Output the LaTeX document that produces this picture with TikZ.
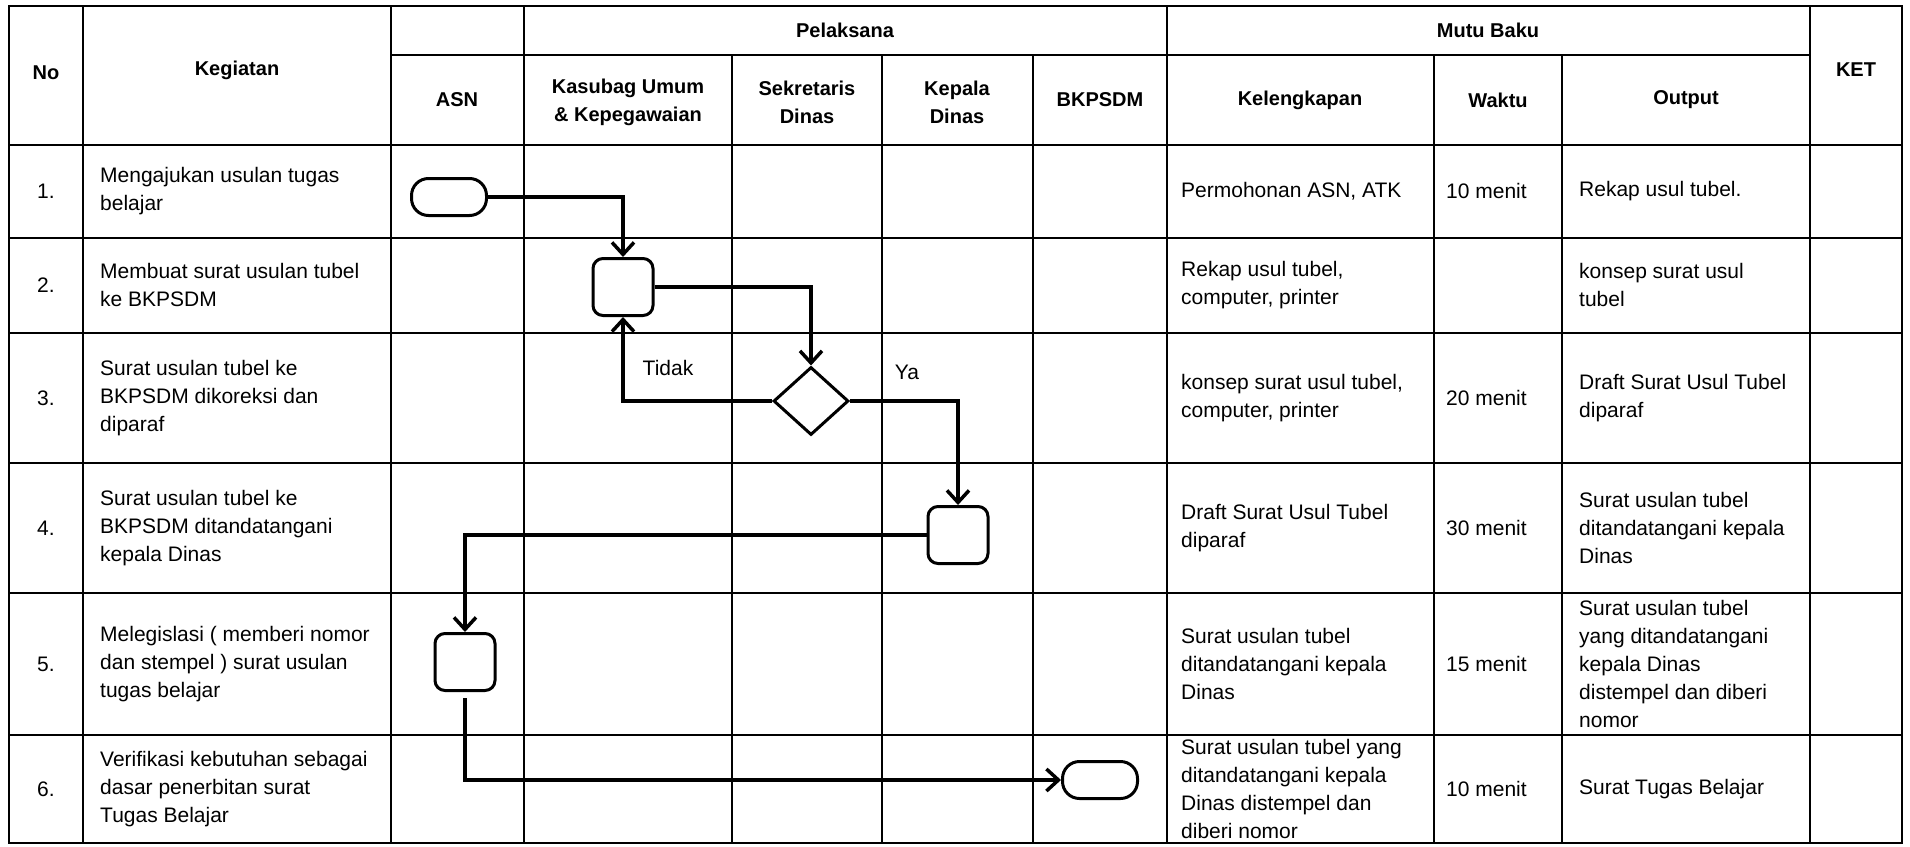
\documentclass[tikz,border=0pt]{standalone}
\usepackage{fontspec}
\setmainfont{Liberation Sans}
\usetikzlibrary{arrows.meta, shapes.geometric, positioning}

\begin{document}
\begin{tikzpicture}[x=1pt, y=-1pt,
    grid/.style={line width=2pt},
    hd/.style={font=\bfseries\fontsize{20}{28}\selectfont, align=center, inner sep=0pt},
    num/.style={font=\fontsize{21}{28}\selectfont, inner sep=0pt},
    txt/.style={font=\fontsize{21}{28}\selectfont, align=left, anchor=west, inner sep=0pt},
    lbl/.style={font=\fontsize{21}{28}\selectfont, inner sep=0pt},
    proc/.style={draw, line width=3pt, rounded corners=10pt, minimum width=60pt, minimum height=57pt},
    term/.style={draw, line width=3pt, rounded corners=17pt, minimum width=75pt, minimum height=37pt},
    dec/.style={draw, diamond, line width=3pt, minimum width=75pt, minimum height=68pt, inner sep=0pt},
    arr/.style={-{Straight Barb[length=12pt, width=22pt]}, line width=3.5pt}
]
    \fill[white] (0,0) rectangle (1910,846);

    % table grid
    \draw[grid] (9,6) rectangle (1902,843);
    \draw[grid] (391,55) -- (1810,55)
        (9,145) -- (1902,145) (9,238) -- (1902,238) (9,333) -- (1902,333)
        (9,463) -- (1902,463) (9,593) -- (1902,593) (9,735) -- (1902,735);
    \draw[grid] (83,6) -- (83,843) (391,6) -- (391,843) (524,6) -- (524,843)
        (1167,6) -- (1167,843) (1810,6) -- (1810,843)
        (732,55) -- (732,843) (882,55) -- (882,843) (1033,55) -- (1033,843)
        (1434,55) -- (1434,843) (1562,55) -- (1562,843);

    % header
    \node[hd] (hno) at (46,73) {No};
    \node[hd] (hkeg) at (237,70) {Kegiatan};
    \node[hd] (hpel) at (845,30) {Pelaksana};
    \node[hd] (hmutu) at (1488,30) {Mutu Baku};
    \node[hd] (hket) at (1856,70) {KET};
    \node[hd] (hasn) at (457,100) {ASN};
    \node[hd] (hkas) at (628,102) {Kasubag Umum\\\& Kepegawaian};
    \node[hd] (hsek) at (807,102) {Sekretaris\\Dinas};
    \node[hd] (hkep) at (957,102) {Kepala\\Dinas};
    \node[hd] (hbkp) at (1100,100) {BKPSDM};
    \node[hd] (hkel) at (1300,100) {Kelengkapan};
    \node[hd] (hwak) at (1498,100) {Waktu};
    \node[hd] (hout) at (1686,100) {Output};

    % nomor
    \node[num] (n1) at (46,191) {1.};
    \node[num] (n2) at (46,285) {2.};
    \node[num] (n3) at (46,398) {3.};
    \node[num] (n4) at (46,528) {4.};
    \node[num] (n5) at (46,664) {5.};
    \node[num] (n6) at (46,789) {6.};

    % kegiatan
    \node[txt] (k1) at (100,191) {Mengajukan usulan tugas\\belajar};
    \node[txt] (k2) at (100,285) {Membuat surat usulan tubel\\ke BKPSDM};
    \node[txt] (k3) at (100,398) {Surat usulan tubel ke\\BKPSDM dikoreksi dan\\diparaf};
    \node[txt] (k4) at (100,528) {Surat usulan tubel ke\\BKPSDM ditandatangani\\kepala Dinas};
    \node[txt] (k5) at (100,664) {Melegislasi ( memberi nomor\\dan stempel ) surat usulan\\tugas belajar};
    \node[txt] (k6) at (100,789) {Verifikasi kebutuhan sebagai\\dasar penerbitan surat\\Tugas Belajar};

    % kelengkapan
    \node[txt] (l1) at (1181,191) {Permohonan ASN, ATK};
    \node[txt] (l2) at (1181,285) {Rekap usul tubel,\\computer, printer};
    \node[txt] (l3) at (1181,398) {konsep surat usul tubel,\\computer, printer};
    \node[txt] (l4) at (1181,528) {Draft Surat Usul Tubel\\diparaf};
    \node[txt] (l5) at (1181,664) {Surat usulan tubel\\ditandatangani kepala\\Dinas};
    \node[txt] (l6) at (1181,789) {Surat usulan tubel yang\\ditandatangani kepala\\Dinas distempel dan\\diberi nomor};

    % waktu
    \node[txt] (w1) at (1446,191) {10 menit};
    \node[txt] (w3) at (1446,398) {20 menit};
    \node[txt] (w4) at (1446,528) {30 menit};
    \node[txt] (w5) at (1446,664) {15 menit};
    \node[txt] (w6) at (1446,789) {10 menit};

    % output
    \node[txt] (o1) at (1579,191) {Rekap usul tubel.};
    \node[txt] (o2) at (1579,285) {konsep surat usul\\tubel};
    \node[txt] (o3) at (1579,398) {Draft Surat Usul Tubel\\diparaf};
    \node[txt] (o4) at (1579,528) {Surat usulan tubel\\ditandatangani kepala\\Dinas};
    \node[txt] (o5) at (1579,664) {Surat usulan tubel\\yang ditandatangani\\kepala Dinas\\distempel dan diberi\\nomor};
    \node[txt] (o6) at (1579,789) {Surat Tugas Belajar};

    % alur
    \node[term] (mulai) at (449,197) {};
    \node[proc] (buat) at (623,287) {};
    \node[dec] (cek) at (811,401) {};
    \node[proc] (ttd) at (958,535) {};
    \node[proc] (legis) at (465,662) {};
    \node[term] (selesai) at (1100,780) {};

    \draw[arr] (mulai.east) -| (buat.north);
    \draw[arr] (buat.east) -| (cek.north);
    \draw[arr] (cek.west) -| (buat.south);
    \draw[arr] (cek.east) -| (ttd.north);
    \draw[arr] (ttd.west) -| (legis.north);
    \draw[arr, shorten <=6pt] (legis.south) |- (selesai.west);

    \node[lbl] (tidak) at (668,368) {Tidak};
    \node[lbl] (ya) at (907,372) {Ya};
\end{tikzpicture}
\end{document}
